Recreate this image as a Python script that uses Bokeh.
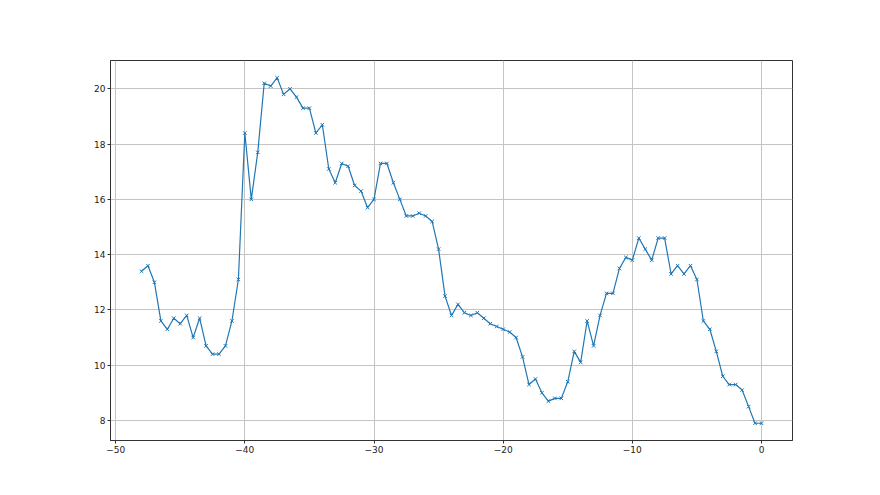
from bokeh.plotting import figure
from bokeh.models import Range1d, FixedTicker
from bokeh.embed import file_html
from bokeh.resources import INLINE

x_start = -48.0
x_step = 0.5
values = [13.4, 13.6, 13.0, 11.6, 11.3, 11.7, 11.5, 11.8, 11.0, 11.7,
          10.7, 10.4, 10.4, 10.7, 11.6, 13.1, 18.4, 16.0, 17.7, 20.2,
          20.1, 20.4, 19.8, 20.0, 19.7, 19.3, 19.3, 18.4, 18.7, 17.1,
          16.6, 17.3, 17.2, 16.5, 16.3, 15.7, 16.0, 17.3, 17.3, 16.6,
          16.0, 15.4, 15.4, 15.5, 15.4, 15.2, 14.2, 12.5, 11.8, 12.2,
          11.9, 11.8, 11.9, 11.7, 11.5, 11.4, 11.3, 11.2, 11.0, 10.3,
          9.3, 9.5, 9.0, 8.7, 8.8, 8.8, 9.4, 10.5, 10.1, 11.6,
          10.7, 11.8, 12.6, 12.6, 13.5, 13.9, 13.8, 14.6, 14.2, 13.8,
          14.6, 14.6, 13.3, 13.6, 13.3, 13.6, 13.1, 11.6, 11.3, 10.5,
          9.6, 9.3, 9.3, 9.1, 8.5, 7.9, 7.9]
xs = [x_start + i * x_step for i in range(len(values))]

x_ticks = [-50, -40, -30, -20, -10, 0]
y_ticks = [8, 10, 12, 14, 16, 18, 20]
x_tick_labels = {t: (str(t).replace("-", "\u2212")) for t in x_ticks}
y_tick_labels = {t: str(t) for t in y_ticks}

pad_x = 0.05 * (max(xs) - min(xs))
pad_y = 0.05 * (max(values) - min(values))

p = figure(frame_width=682, frame_height=380,
           min_border_left=110, min_border_right=72,
           min_border_top=60, min_border_bottom=39,
           output_backend="svg", toolbar_location=None,
           x_range=Range1d(min(xs) - pad_x, max(xs) + pad_x),
           y_range=Range1d(min(values) - pad_y, max(values) + pad_y))

p.background_fill_color = "white"
p.border_fill_color = "white"
p.outline_line_color = "#333333"
p.outline_line_width = 1
p.outline_line_alpha = 1

p.xaxis.ticker = FixedTicker(ticks=x_ticks)
p.yaxis.ticker = FixedTicker(ticks=y_ticks)
p.xaxis.major_label_overrides = x_tick_labels
p.yaxis.major_label_overrides = y_tick_labels

for ax in (p.xaxis, p.yaxis):
    ax.axis_line_color = "#333333"
    ax.major_tick_line_color = "#333333"
    ax.major_tick_in = 0
    ax.major_tick_out = 3
    ax.minor_tick_line_color = None
    ax.major_label_text_font = "DejaVu Sans"
    ax.major_label_text_font_size = "9px"
    ax.major_label_text_color = "#222222"
    ax.major_label_standoff = 2

p.xgrid.grid_line_color = "#c4c4c4"
p.ygrid.grid_line_color = "#c4c4c4"
p.xgrid.grid_line_width = 1
p.ygrid.grid_line_width = 1

p.line(xs, values, line_color="#1f77b4", line_width=1.2)
p.scatter(xs, values, marker="x", size=5, line_color="#1f77b4", line_width=1)

open("out.html", "w").write(file_html(p, INLINE))
